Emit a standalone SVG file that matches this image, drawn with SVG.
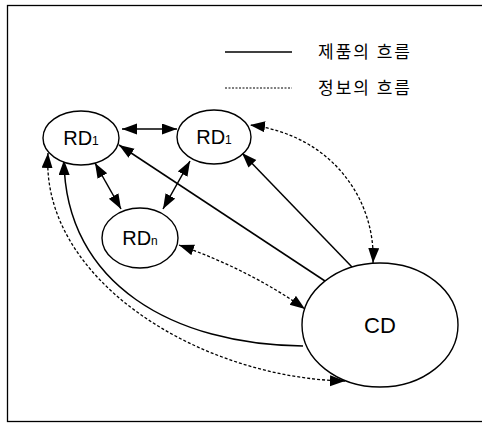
<svg xmlns="http://www.w3.org/2000/svg" width="482" height="423" viewBox="0 0 482 423">
<style>
.node{fill:#fff;stroke:#000;stroke-width:1.4}
.lbl{font-family:"Liberation Sans",Arial,sans-serif;font-size:20px;fill:#000;text-anchor:middle}
.sub{font-size:12px}
.ko{font-family:"Noto Sans CJK KR",sans-serif;font-size:17px;fill:#000}
.solid{fill:none;stroke:#000;stroke-width:1.5}
.dot{fill:none;stroke:#000;stroke-width:1.3;stroke-dasharray:3,2}
</style>
<defs>
<marker id="ah" markerUnits="userSpaceOnUse" markerWidth="16" markerHeight="12" refX="15" refY="5.5" orient="auto-start-reverse" viewBox="0 0 16 12">
<path d="M0,0 L15,5.5 L0,11 z" fill="#000"/>
</marker>
</defs>
<rect x="7.5" y="5.5" width="480" height="416" fill="#fff" stroke="#000" stroke-width="1.3"/>
<g id="legend">
<line x1="225" y1="52" x2="292" y2="52" stroke="#000" stroke-width="1.3"/>
<text class="ko" x="318" y="58" textLength="92" lengthAdjust="spacing">제품의 흐름</text>
<line x1="225" y1="88" x2="292" y2="88" stroke="#000" stroke-width="1" stroke-dasharray="2,1.5"/>
<text class="ko" x="318" y="94" textLength="92" lengthAdjust="spacing">정보의 흐름</text>
</g>
<g id="connectors">
<line class="solid" x1="122" y1="129" x2="177" y2="129" marker-start="url(#ah)" marker-end="url(#ah)"/>
<line class="solid" x1="95" y1="163" x2="121" y2="209" marker-start="url(#ah)" marker-end="url(#ah)"/>
<line class="solid" x1="190" y1="161" x2="163" y2="209" marker-start="url(#ah)" marker-end="url(#ah)"/>
<line class="solid" x1="325" y1="281" x2="119" y2="145" marker-end="url(#ah)"/>
<line class="solid" x1="352" y1="267" x2="242" y2="153" marker-end="url(#ah)"/>
<path class="dot" d="M373,263 C376,200 332,135 250,125" marker-start="url(#ah)" marker-end="url(#ah)"/>
<path class="dot" d="M179,245 Q250,270 305,309" marker-start="url(#ah)" marker-end="url(#ah)"/>
<path class="solid" d="M303,346 C175,345 65,285 64,160" marker-end="url(#ah)"/>
<path class="dot" d="M345,381 C200,378 40,280 48,153" marker-start="url(#ah)" marker-end="url(#ah)"/>
</g>
<g id="rd1-left">
<ellipse class="node" cx="81" cy="138" rx="38" ry="27"/>
<text class="lbl" x="81" y="145">RD<tspan class="sub">1</tspan></text>
</g>
<g id="rd1-right">
<ellipse class="node" cx="214" cy="137" rx="37" ry="27"/>
<text class="lbl" x="214" y="144">RD<tspan class="sub">1</tspan></text>
</g>
<g id="rdn">
<ellipse class="node" cx="140" cy="238" rx="38" ry="30"/>
<text class="lbl" x="140" y="245">RD<tspan class="sub">n</tspan></text>
</g>
<g id="cd">
<ellipse class="node" cx="380" cy="325" rx="78" ry="62"/>
<text class="lbl" x="380" y="333" style="font-size:22px">CD</text>
</g>
</svg>
